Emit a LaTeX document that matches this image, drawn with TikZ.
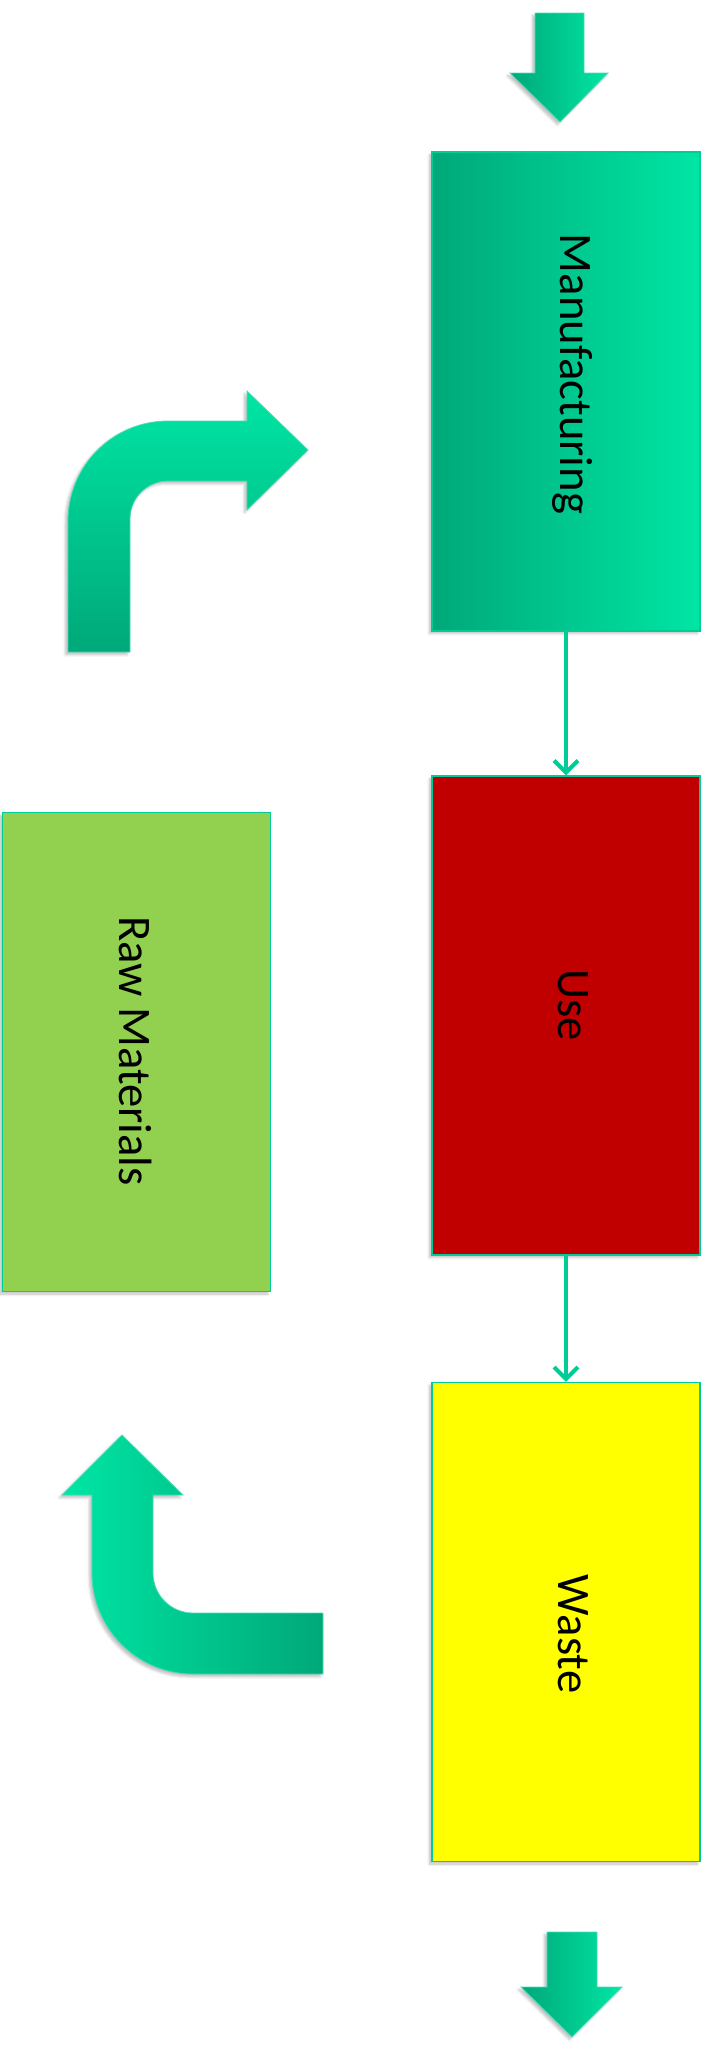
\documentclass[tikz,border=0pt]{standalone}
\usepackage{fontspec}
\setmainfont{Carlito}
\usetikzlibrary{arrows.meta,shadows.blur}

\definecolor{flowdark}{RGB}{0,168,120}
\definecolor{flowlight}{RGB}{0,230,164}
\definecolor{edge}{RGB}{0,204,150}
\definecolor{usered}{RGB}{192,0,0}
\definecolor{wasteyellow}{RGB}{255,255,0}
\definecolor{rawgreen}{RGB}{146,208,80}

\begin{document}
\begin{tikzpicture}[x=0.75pt, y=-0.75pt,
    stage/.style   = {draw=edge, line width=1.2pt, minimum width=201pt,
                      minimum height=359pt, inner sep=0pt,
                      blur shadow={shadow xshift=-2pt, shadow yshift=-2pt,
                                   shadow opacity=25}},
    caption/.style = {rotate=-90, font=\fontsize{35}{42}\selectfont},
    flow/.style    = {draw=edge, line width=3pt, -{Straight Barb[length=9pt,width=18pt]}},
    bigarrow/.style= {draw=edge!70!white, line width=0.6pt,
                      blur shadow={shadow xshift=-2pt, shadow yshift=-2pt,
                                   shadow opacity=25}}]
  \useasboundingbox (0,0) rectangle (708,2049);

  \node[stage, left color=flowdark, right color=flowlight] (mfg)   at (566,391.5) {};
  \node[stage, fill=usered]                                (use)   at (566,1015.5) {};
  \node[stage, fill=wasteyellow]                           (waste) at (566,1622) {};
  \node[stage, fill=rawgreen]                              (raw)   at (136.5,1052) {};

  \node[caption] (mfgtext)   at (573,374)  {Manufacturing};
  \node[caption] (usetext)   at (573,1005) {Use};
  \node[caption] (wastetext) at (573,1634) {Waste};
  \node[caption] (rawtext)   at (136,1051) {Raw Materials};

  \draw[flow] (mfg) -- (use);
  \draw[flow] (use) -- (waste);

  % arrows in and out
  \path[bigarrow, left color=flowdark, right color=flowlight]
       (535,13) -- (584,13) -- (584,73) -- (608,73) -- (560,122)
    -- (510,73) -- (535,73) -- cycle;
  \path[bigarrow, left color=flowdark, right color=flowlight]
       (547,1932) -- (597,1932) -- (597,1987) -- (622,1987) -- (572,2037)
    -- (521,1987) -- (547,1987) -- cycle;

  % bent arrows
  \path[bigarrow, top color=flowlight, bottom color=flowdark]
       (68,652) -- (68,521) arc[start angle=180, end angle=270, radius=100]
    -- (247,421) -- (247,391) -- (308,450) -- (247,510) -- (247,481)
    -- (168,481) arc[start angle=270, end angle=180, radius=38]
    -- (130,652) -- cycle;
  \path[bigarrow, left color=flowlight, right color=flowdark]
       (122,1435) -- (183,1495) -- (153,1495)
    -- (153,1573) arc[start angle=180, end angle=90, radius=40]
    -- (323,1613) -- (323,1674)
    -- (193,1674) arc[start angle=90, end angle=180, radius=101]
    -- (92,1495) -- (62,1495) -- cycle;
\end{tikzpicture}
\end{document}
